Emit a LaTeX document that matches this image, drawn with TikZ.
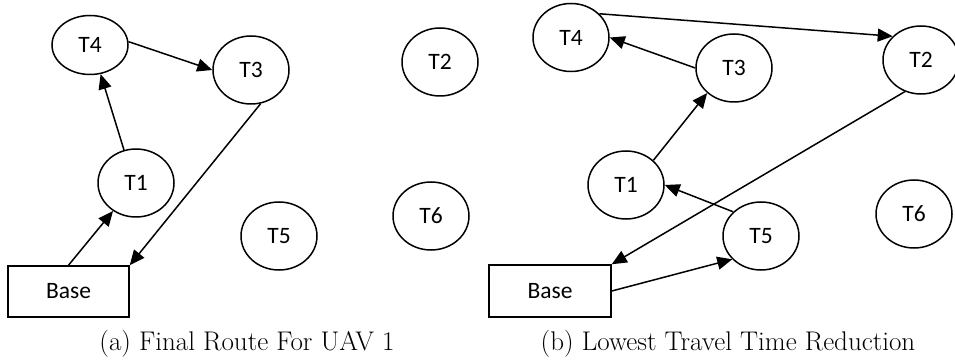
\documentclass[tikz,border=0pt]{standalone}
\usepackage{fontspec}
\newfontfamily\nodefont{Carlito}
\usetikzlibrary{shapes.geometric,arrows.meta}
\tikzset{
  tnode/.style={ellipse,draw,line width=1.5pt,minimum width=76pt,minimum height=68pt,inner sep=0pt,font=\nodefont\fontsize{23.5}{26}\selectfont},
  basebox/.style={rectangle,draw,line width=1.5pt,minimum width=121pt,minimum height=51pt,inner sep=0pt,font=\nodefont\fontsize{23.5}{26}\selectfont},
  route/.style={line width=1.5pt,-{Triangle[length=15pt,width=13pt]}},
  captext/.style={font=\fontsize{27}{31}\selectfont}
}
\begin{document}
\begin{tikzpicture}[x=1pt,y=-1pt]
\useasboundingbox (0,0) rectangle (955,363);
% panel (a)
\node[tnode,minimum height=59pt] (aT4) at (90,45) {T4};
\node[tnode] (aT3) at (251,70) {T3};
\node[tnode] (aT2) at (440,62) {T2};
\node[tnode] (aT1) at (136,183) {T1};
\node[tnode] (aT5) at (279,236) {T5};
\node[tnode] (aT6) at (431,216) {T6};
\node[basebox] (aB) at (68.5,291.5) {Base};
\draw[route] (aB.north) -- (aT1);
\draw[route] (aT1.110) -- (aT4.290);
\draw[route] (aT4.5) -- (aT3.west);
\draw[route] (aT3.286) -- (aB.north east);
\node[captext] (capa) at (247,344) {(a) Final Route For UAV 1};
% panel (b)
\node[tnode] (bT4) at (571,37.5) {T4};
\node[tnode] (bT3) at (734,68) {T3};
\node[tnode] (bT2) at (921,60) {T2};
\node[tnode] (bT1) at (626,185) {T1};
\node[tnode] (bT5) at (761,236) {T5};
\node[tnode] (bT6) at (914,214) {T6};
\node[basebox,minimum width=122pt,minimum height=52pt] (bB) at (550,291) {Base};
\draw[route] (bT4.40) -- (bT2.140);
\draw[route] (bT3.west) -- (bT4.east);
\draw[route] (bT1.42) -- (bT3.223);
\draw[route] (bT5.139) -- (bT1.east);
\draw[route] (bT2.243) -- (bB.north east);
\draw[route] (bB.east) -- (bT5.219);
\node[captext] (capb) at (728,344) {(b) Lowest Travel Time Reduction};
\end{tikzpicture}
\end{document}
